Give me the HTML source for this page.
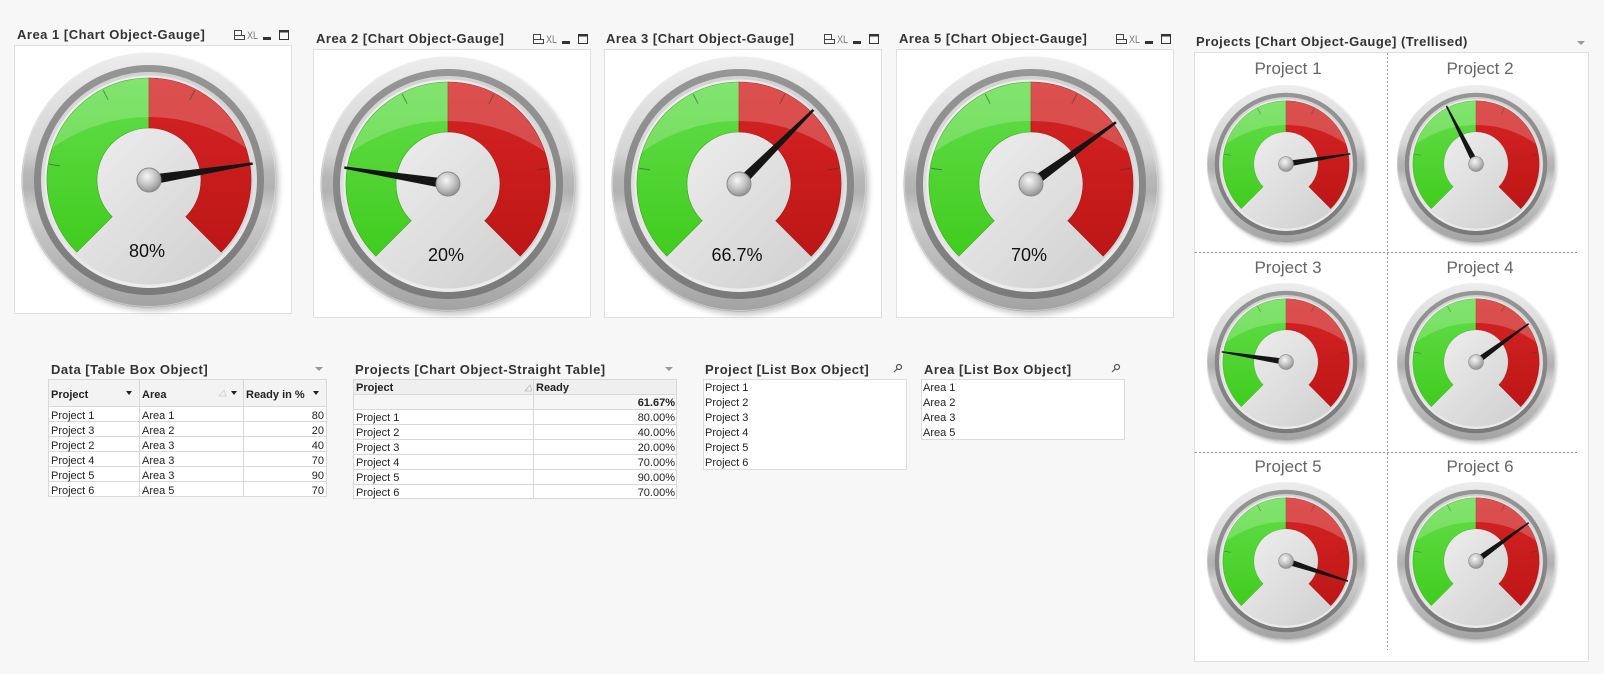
<!DOCTYPE html>
<html><head><meta charset="utf-8">
<style>
html,body{margin:0;padding:0;background:#f7f7f7;width:1604px;height:674px;overflow:hidden}
svg{display:block}
text{font-family:"Liberation Sans",Arial,sans-serif}
.tt{font-size:13px;font-weight:bold;fill:#333;letter-spacing:.5px}
.td{font-size:11px;fill:#222}
.th{font-size:11px;font-weight:bold;fill:#222}
.pl{font-size:17px;fill:#666}
.pc{font-size:18px;fill:#111}
</style></head>
<body>
<svg width="1604" height="674" viewBox="0 0 1604 674" xmlns="http://www.w3.org/2000/svg">
<defs>
<filter id="bl" x="-20%" y="-20%" width="140%" height="140%"><feGaussianBlur stdDeviation="3"/></filter>
<linearGradient id="gChrome" x1="0" y1="-128" x2="0" y2="128" gradientUnits="userSpaceOnUse">
<stop offset="0" stop-color="#ededed"/><stop offset="0.38" stop-color="#d4d4d4"/>
<stop offset="0.47" stop-color="#b8b8b8"/><stop offset="0.53" stop-color="#b2b2b2"/>
<stop offset="0.62" stop-color="#cdcdcd"/><stop offset="1" stop-color="#a2a2a2"/>
</linearGradient>
<linearGradient id="gDark" x1="0" y1="-115" x2="0" y2="115" gradientUnits="userSpaceOnUse">
<stop offset="0" stop-color="#969696"/><stop offset="1" stop-color="#7a7a7a"/>
</linearGradient>
<linearGradient id="gLight" x1="0" y1="-108" x2="0" y2="108" gradientUnits="userSpaceOnUse">
<stop offset="0" stop-color="#d2d2d2"/><stop offset="1" stop-color="#ececec"/>
</linearGradient>
<linearGradient id="gFace" x1="-90" y1="-90" x2="90" y2="90" gradientUnits="userSpaceOnUse">
<stop offset="0" stop-color="#f5f5f5"/><stop offset="1" stop-color="#cfcfcf"/>
</linearGradient>
<linearGradient id="gGreen" x1="0" y1="-102" x2="0" y2="72" gradientUnits="userSpaceOnUse">
<stop offset="0" stop-color="#62de4b"/><stop offset="1" stop-color="#40cc1d"/>
</linearGradient>
<linearGradient id="gRed" x1="0" y1="-102" x2="0" y2="72" gradientUnits="userSpaceOnUse">
<stop offset="0" stop-color="#d62424"/><stop offset="1" stop-color="#bd1616"/>
</linearGradient>
<radialGradient id="hub" cx="0.42" cy="0.35" r="0.7">
<stop offset="0" stop-color="#f6f6f6"/><stop offset="0.5" stop-color="#c6c6c6"/><stop offset="1" stop-color="#8a8a8a"/>
</radialGradient>
<mask id="gm" maskContentUnits="userSpaceOnUse">
<rect x="-130" y="-130" width="260" height="260" fill="#fff"/>
<circle cx="0" cy="104" r="167" fill="#000"/>
</mask>
<g id="gb">
<circle cx="3" cy="4" r="127" fill="#000" opacity="0.22" filter="url(#bl)"/>
<circle r="127.5" fill="url(#gChrome)"/>
<circle r="126.5" fill="none" stroke="#f0f0f0" stroke-width="1" opacity=".5"/>
<circle r="115" fill="url(#gDark)"/>
<circle r="108" fill="url(#gLight)"/>
<circle r="104.5" fill="url(#gFace)"/>
<path d="M-72.12 72.12A102 102 0 0 1 0 -102L0 -52A52 52 0 0 0 -36.77 36.77Z" fill="url(#gGreen)" stroke="#39a51c" stroke-width=".6"/>
<path d="M0 -102A102 102 0 0 1 72.12 72.12L36.77 36.77A52 52 0 0 0 0 -52Z" fill="url(#gRed)" stroke="#a51414" stroke-width=".6"/>
<path d="M-72.12 72.12A102 102 0 1 1 72.12 72.12L36.77 36.77A52 52 0 1 0 -36.77 36.77Z" fill="#fff" opacity=".2" mask="url(#gm)"/>
<g stroke="#333" stroke-opacity=".5" stroke-width="1">
<line x1="-88.89" y1="-14.08" x2="-99.76" y2="-15.80"/>
<line x1="-40.86" y1="-80.19" x2="-45.85" y2="-89.99"/>
<line x1="40.86" y1="-80.19" x2="45.85" y2="-89.99"/>
<line x1="88.89" y1="-14.08" x2="99.76" y2="-15.80"/>
</g>
</g>
<g id="nd"><polygon points="-5,0 -1.2,-105 1.2,-105 5,0" fill="#151515"/></g>
<g id="hb"><circle r="12" fill="url(#hub)" stroke="#8a8a8a" stroke-width="1"/></g>
<g id="ic">
<rect x="-57.5" y="-14.5" width="7" height="5" fill="none" stroke="#444"/>
<rect x="-57.5" y="-9.5" width="10" height="4" fill="none" stroke="#444"/>
<text x="-45" y="-6" font-size="11" fill="#777" textLength="11" lengthAdjust="spacingAndGlyphs">XL</text>
<rect x="-29" y="-8" width="8" height="3" fill="#333"/>
<rect x="-12.5" y="-14.5" width="9" height="9" fill="none" stroke="#333"/>
<rect x="-13" y="-15" width="10" height="2.5" fill="#333"/>
</g>
</defs>

<rect width="1604" height="674" fill="#f7f7f7"/>

<!-- Area gauges panels -->
<text class="tt" x="17" y="39">Area 1 [Chart Object-Gauge]</text>
<use href="#ic" transform="translate(292,45)"/>
<rect x="14.5" y="45.5" width="277" height="268" fill="#fff" stroke="#e0e0e0"/>

<text class="tt" x="316" y="43">Area 2 [Chart Object-Gauge]</text>
<use href="#ic" transform="translate(591,49)"/>
<rect x="313.5" y="49.5" width="277" height="268" fill="#fff" stroke="#e0e0e0"/>

<text class="tt" x="606" y="43">Area 3 [Chart Object-Gauge]</text>
<use href="#ic" transform="translate(882,49)"/>
<rect x="604.5" y="49.5" width="277" height="268" fill="#fff" stroke="#e0e0e0"/>

<text class="tt" x="899" y="43">Area 5 [Chart Object-Gauge]</text>
<use href="#ic" transform="translate(1174,49)"/>
<rect x="896.5" y="49.5" width="277" height="268" fill="#fff" stroke="#e0e0e0"/>

<g transform="translate(149,180)">
<use href="#gb"/><text class="pc" x="-2" y="77" text-anchor="middle">80%</text>
<use href="#nd" transform="rotate(81)"/><use href="#hb"/>
</g>
<g transform="translate(448,184)">
<use href="#gb"/><text class="pc" x="-2" y="77" text-anchor="middle">20%</text>
<use href="#nd" transform="rotate(-81)"/><use href="#hb"/>
</g>
<g transform="translate(739,184)">
<use href="#gb"/><text class="pc" x="-2" y="77" text-anchor="middle">66.7%</text>
<use href="#nd" transform="rotate(45.1)"/><use href="#hb"/>
</g>
<g transform="translate(1031,184)">
<use href="#gb"/><text class="pc" x="-2" y="77" text-anchor="middle">70%</text>
<use href="#nd" transform="rotate(54)"/><use href="#hb"/>
</g>

<!-- Trellis -->
<text class="tt" x="1196" y="46">Projects [Chart Object-Gauge] (Trellised)</text>
<polygon points="1577,41 1585,41 1581,45" fill="#999"/>
<rect x="1194.5" y="52.5" width="394" height="609" fill="#fff" stroke="#e0e0e0"/>
<g stroke="#999" stroke-width="1" stroke-dasharray="2,2">
<line x1="1387.5" y1="53" x2="1387.5" y2="650"/>
<line x1="1195" y1="252.5" x2="1578" y2="252.5"/>
<line x1="1195" y1="452.5" x2="1578" y2="452.5"/>
</g>
<text class="pl" x="1288" y="74" text-anchor="middle">Project 1</text>
<text class="pl" x="1480" y="74" text-anchor="middle">Project 2</text>
<text class="pl" x="1288" y="273" text-anchor="middle">Project 3</text>
<text class="pl" x="1480" y="273" text-anchor="middle">Project 4</text>
<text class="pl" x="1288" y="472" text-anchor="middle">Project 5</text>
<text class="pl" x="1480" y="472" text-anchor="middle">Project 6</text>

<g transform="translate(1286,164) scale(0.62)"><use href="#gb"/><use href="#nd" transform="rotate(81)"/><use href="#hb"/></g>
<g transform="translate(1476,164) scale(0.62)"><use href="#gb"/><use href="#nd" transform="rotate(-27)"/><use href="#hb"/></g>
<g transform="translate(1286,362) scale(0.62)"><use href="#gb"/><use href="#nd" transform="rotate(-81)"/><use href="#hb"/></g>
<g transform="translate(1476,362) scale(0.62)"><use href="#gb"/><use href="#nd" transform="rotate(54)"/><use href="#hb"/></g>
<g transform="translate(1286,561) scale(0.62)"><use href="#gb"/><use href="#nd" transform="rotate(108)"/><use href="#hb"/></g>
<g transform="translate(1476,561) scale(0.62)"><use href="#gb"/><use href="#nd" transform="rotate(54)"/><use href="#hb"/></g>

<!-- Data table box -->
<text class="tt" x="51" y="374">Data [Table Box Object]</text>
<polygon points="315,367 323,367 319,371" fill="#999"/>
<rect x="48.5" y="379.5" width="278" height="27" fill="#f3f3f3"/>
<rect x="48.5" y="406.5" width="278" height="90" fill="#fff"/>
<g stroke="#d8d8d8" stroke-width="1">
<rect x="48.5" y="379.5" width="278" height="117" fill="none"/>
<line x1="48" y1="406.5" x2="327" y2="406.5"/>
<line x1="48" y1="421.5" x2="327" y2="421.5"/>
<line x1="48" y1="436.5" x2="327" y2="436.5"/>
<line x1="48" y1="451.5" x2="327" y2="451.5"/>
<line x1="48" y1="466.5" x2="327" y2="466.5"/>
<line x1="48" y1="481.5" x2="327" y2="481.5"/>
<line x1="139.5" y1="379" x2="139.5" y2="497"/>
<line x1="243.5" y1="379" x2="243.5" y2="497"/>
</g>
<text class="th" x="51" y="398">Project</text>
<polygon points="126,391 132,391 129,395" fill="#222"/>
<text class="th" x="142" y="398">Area</text>
<polygon points="219,396 226,396 224,390" fill="none" stroke="#ccc" stroke-width=".8"/>
<polygon points="231,391 237,391 234,395" fill="#222"/>
<text class="th" x="246" y="398">Ready in %</text>
<polygon points="313,391 319,391 316,395" fill="#222"/>
<g class="td">
<text class="td" x="51" y="419">Project 1</text><text class="td" x="142" y="419">Area 1</text><text class="td" x="324" y="419" text-anchor="end">80</text>
<text class="td" x="51" y="434">Project 3</text><text class="td" x="142" y="434">Area 2</text><text class="td" x="324" y="434" text-anchor="end">20</text>
<text class="td" x="51" y="449">Project 2</text><text class="td" x="142" y="449">Area 3</text><text class="td" x="324" y="449" text-anchor="end">40</text>
<text class="td" x="51" y="464">Project 4</text><text class="td" x="142" y="464">Area 3</text><text class="td" x="324" y="464" text-anchor="end">70</text>
<text class="td" x="51" y="479">Project 5</text><text class="td" x="142" y="479">Area 3</text><text class="td" x="324" y="479" text-anchor="end">90</text>
<text class="td" x="51" y="494">Project 6</text><text class="td" x="142" y="494">Area 5</text><text class="td" x="324" y="494" text-anchor="end">70</text>
</g>

<!-- Straight table -->
<text class="tt" x="355" y="374">Projects [Chart Object-Straight Table]</text>
<polygon points="665,367 673,367 669,371" fill="#999"/>
<rect x="353.5" y="379.5" width="323" height="15" fill="#efefef"/>
<rect x="353.5" y="394.5" width="323" height="15" fill="#f6f6f6"/>
<rect x="353.5" y="409.5" width="323" height="89" fill="#fff"/>
<g stroke="#d8d8d8" stroke-width="1">
<rect x="353.5" y="379.5" width="323" height="119" fill="none"/>
<line x1="353" y1="394.5" x2="677" y2="394.5"/>
<line x1="353" y1="409.5" x2="677" y2="409.5"/>
<line x1="353" y1="424.5" x2="677" y2="424.5"/>
<line x1="353" y1="439.5" x2="677" y2="439.5"/>
<line x1="353" y1="454.5" x2="677" y2="454.5"/>
<line x1="353" y1="469.5" x2="677" y2="469.5"/>
<line x1="353" y1="484.5" x2="677" y2="484.5"/>
<line x1="533.5" y1="379" x2="533.5" y2="499"/>
</g>
<text class="th" x="356" y="391">Project</text>
<polygon points="525,391 532,391 530,385" fill="none" stroke="#bbb" stroke-width=".8"/>
<text class="th" x="536" y="391">Ready</text>
<text class="th" x="675" y="406" text-anchor="end">61.67%</text>
<text class="td" x="356" y="421">Project 1</text><text class="td" x="675" y="421" text-anchor="end">80.00%</text>
<text class="td" x="356" y="436">Project 2</text><text class="td" x="675" y="436" text-anchor="end">40.00%</text>
<text class="td" x="356" y="451">Project 3</text><text class="td" x="675" y="451" text-anchor="end">20.00%</text>
<text class="td" x="356" y="466">Project 4</text><text class="td" x="675" y="466" text-anchor="end">70.00%</text>
<text class="td" x="356" y="481">Project 5</text><text class="td" x="675" y="481" text-anchor="end">90.00%</text>
<text class="td" x="356" y="496">Project 6</text><text class="td" x="675" y="496" text-anchor="end">70.00%</text>

<!-- List boxes -->
<text class="tt" x="705" y="374">Project [List Box Object]</text>
<g stroke="#555" stroke-width="1.2" fill="none">
<circle cx="899" cy="367" r="2.5"/><line x1="897.2" y1="368.8" x2="894" y2="372"/>
<circle cx="1117" cy="367" r="2.5"/><line x1="1115.2" y1="368.8" x2="1112" y2="372"/>
</g>
<rect x="703.5" y="379.5" width="203" height="90" fill="#fff" stroke="#dcdcdc"/>
<text class="td" x="705" y="391">Project 1</text>
<text class="td" x="705" y="406">Project 2</text>
<text class="td" x="705" y="421">Project 3</text>
<text class="td" x="705" y="436">Project 4</text>
<text class="td" x="705" y="451">Project 5</text>
<text class="td" x="705" y="466">Project 6</text>

<text class="tt" x="924" y="374">Area [List Box Object]</text>
<rect x="921.5" y="379.5" width="203" height="60" fill="#fff" stroke="#dcdcdc"/>
<text class="td" x="923" y="391">Area 1</text>
<text class="td" x="923" y="406">Area 2</text>
<text class="td" x="923" y="421">Area 3</text>
<text class="td" x="923" y="436">Area 5</text>
</svg>
</body></html>
